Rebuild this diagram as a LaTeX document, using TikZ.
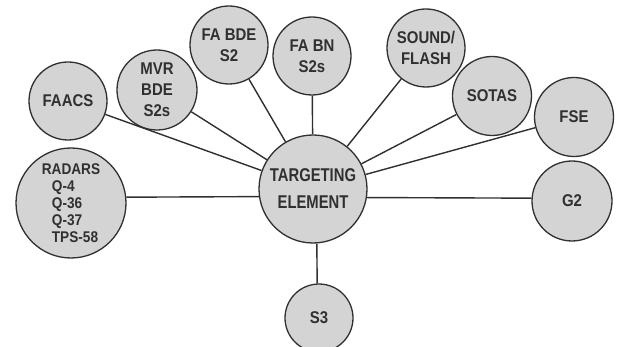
\documentclass[tikz,border=0pt]{standalone}
\usepackage{fontspec}
\newfontfamily\labfont[FakeStretch=0.88]{Liberation Sans}
\newfontfamily\tefont[FakeStretch=0.8]{Liberation Sans}
\definecolor{circfill}{RGB}{212,212,212}
\definecolor{ink}{RGB}{48,48,48}
\begin{document}
\begin{tikzpicture}[x=1pt,y=-1pt,
  bubble/.style={circle,draw=ink,line width=1.3pt,fill=circfill,inner sep=0pt,
    text=ink,align=center,font=\labfont\bfseries\fontsize{17}{21}\selectfont},
  link/.style={draw=ink,line width=1.4pt}]
\useasboundingbox (0,0) rectangle (618,347);
\node[bubble,minimum size=108pt,font=\tefont\bfseries\fontsize{18.5}{27}\selectfont] (te) at (313,189) {TARGETING\\ELEMENT};
\node[bubble,minimum size=110pt,font=\labfont\bfseries\fontsize{15.5}{17}\selectfont,align=left] (radars) at (71,203) {RADARS\\\hspace*{0.65em}Q-4\\\hspace*{0.65em}Q-36\\\hspace*{0.65em}Q-37\\\hspace*{0.65em}TPS-58};
\node[bubble,minimum size=78pt] (faacs) at (68,101) {FAACS};
\node[bubble,minimum size=80pt] (mvr) at (157,90) {MVR\\BDE\\S2s};
\node[bubble,minimum size=78pt] (fabde) at (229,45) {FA BDE\\S2};
\node[bubble,minimum size=78pt] (fabn) at (312,56) {FA BN\\S2s};
\node[bubble,minimum size=78pt] (sound) at (426,48) {SOUND/\\FLASH};
\node[bubble,minimum size=79pt] (sotas) at (492,96) {SOTAS};
\node[bubble,minimum size=79pt] (fse) at (574,117) {FSE};
\node[bubble,minimum size=80pt] (g2) at (572,201) {G2};
\node[bubble,minimum size=68pt] (s3) at (319,318) {S3};
\draw[link] (faacs) -- (te);
\draw[link] (mvr) -- (te);
\draw[link] (fabde) -- (te);
\draw[link] (fabn) -- (te);
\draw[link] (sound) -- (te);
\draw[link] (sotas) -- (te);
\draw[link] (fse) -- (te);
\draw[link] (radars.6) -- (te.188.5);
\draw[link] (te.351.5) -- (g2.176.8);
\draw[link] (te.274) -- (s3.93.5);
\end{tikzpicture}
\end{document}
